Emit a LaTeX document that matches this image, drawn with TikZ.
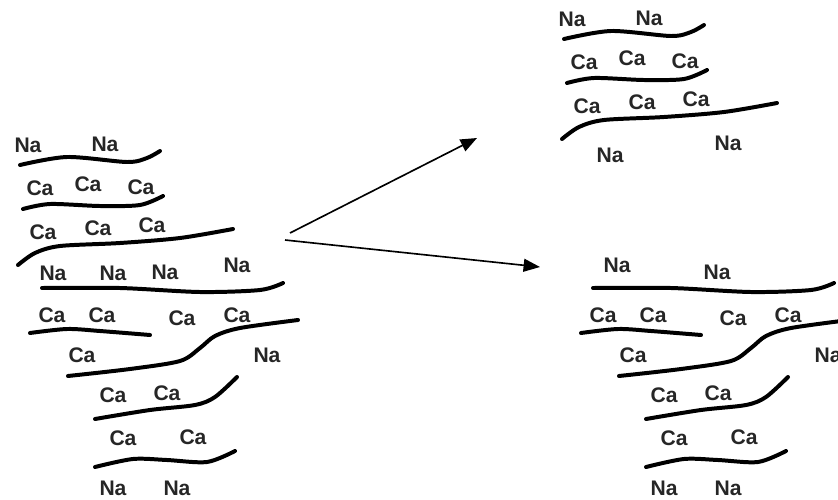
\documentclass[tikz,border=0pt]{standalone}
\usepackage{fontspec}
\setmainfont{Liberation Sans}
\usetikzlibrary{arrows.meta}

\tikzset{
  chain/.style={line width=3.4pt, line cap=round},
  ion/.style={font=\bfseries\fontsize{18}{20}\selectfont, text=black!85, inner sep=0pt},
  flow/.style={line width=1.4pt, -{Triangle[length=14pt,width=11pt]}}
}

\begin{document}
\begin{tikzpicture}[x=0.03cm, y=-0.03cm]
\useasboundingbox (0,0) rectangle (838,499);

% top three sheets: left stack and the split-off stack
\foreach \sx/\sy in {0/0, 544/-126}{
\begin{scope}[shift={(\sx,\sy)}]
\draw[chain] plot[smooth] coordinates {(20,165) (67,157) (127,162) (147,158) (160,151)};
\draw[chain] plot[smooth] coordinates {(23,209) (50,204) (100,206) (140,205) (163,196)};
\draw[chain] plot[smooth] coordinates {(18,265) (35,253) (60,246) (120,243) (180,238) (233,229)};
\foreach \x/\y [count=\i] in {28/145, 105/144}
  \node[ion] (nat\sx-\i) at (\x,\y) {Na};
\foreach \x/\y [count=\i] in {40/188, 88/184, 141/187, 43/232, 98/228, 152/225}
  \node[ion] (cat\sx-\i) at (\x,\y) {Ca};
\end{scope}
}
\node[ion] (nar1) at (610,155) {Na};
\node[ion] (nar2) at (728,143) {Na};

% lower sheets: left stack and the split-off stack
\foreach \sx in {0, 551}{
\begin{scope}[shift={(\sx,0)}]
\draw[chain] plot[smooth] coordinates {(42,288) (120,288) (200,292) (260,290) (283,283)};
\draw[chain] plot[smooth] coordinates {(30,333) (67,329) (100,331) (150,335)};
\draw[chain] plot[smooth] coordinates {(68,376) (130,369) (180,361) (200,348) (215,336) (240,328) (298,320)};
\draw[chain] plot[smooth] coordinates {(95,419) (150,410) (195,405) (215,397) (237,377)};
\draw[chain] plot[smooth] coordinates {(95,467) (133,459) (167,460) (207,462) (235,451)};
\foreach \x/\y [count=\i] in {52/315, 102/315, 182/318, 237/315, 82/355, 113/395, 167/393, 123/438, 193/437}
  \node[ion] (cab\sx-\i) at (\x,\y) {Ca};
\foreach \x/\y [count=\i] in {113/488, 177/488}
  \node[ion] (nab\sx-\i) at (\x,\y) {Na};
\end{scope}
}
\foreach \x/\y [count=\i] in {53/273, 113/273, 165/272, 237/265, 267/355}
  \node[ion] (nal\i) at (\x,\y) {Na};
\foreach \x/\y [count=\i] in {617/265, 717/272, 828/355}
  \node[ion] (nar\i) at (\x,\y) {Na};

% splitting arrows
\coordinate (up0) at (290,233);
\coordinate (up1) at (477,138);
\coordinate (dn0) at (285,240);
\coordinate (dn1) at (540,267);
\draw[flow] (up0) -- (up1);
\draw[flow] (dn0) -- (dn1);
\end{tikzpicture}
\end{document}
